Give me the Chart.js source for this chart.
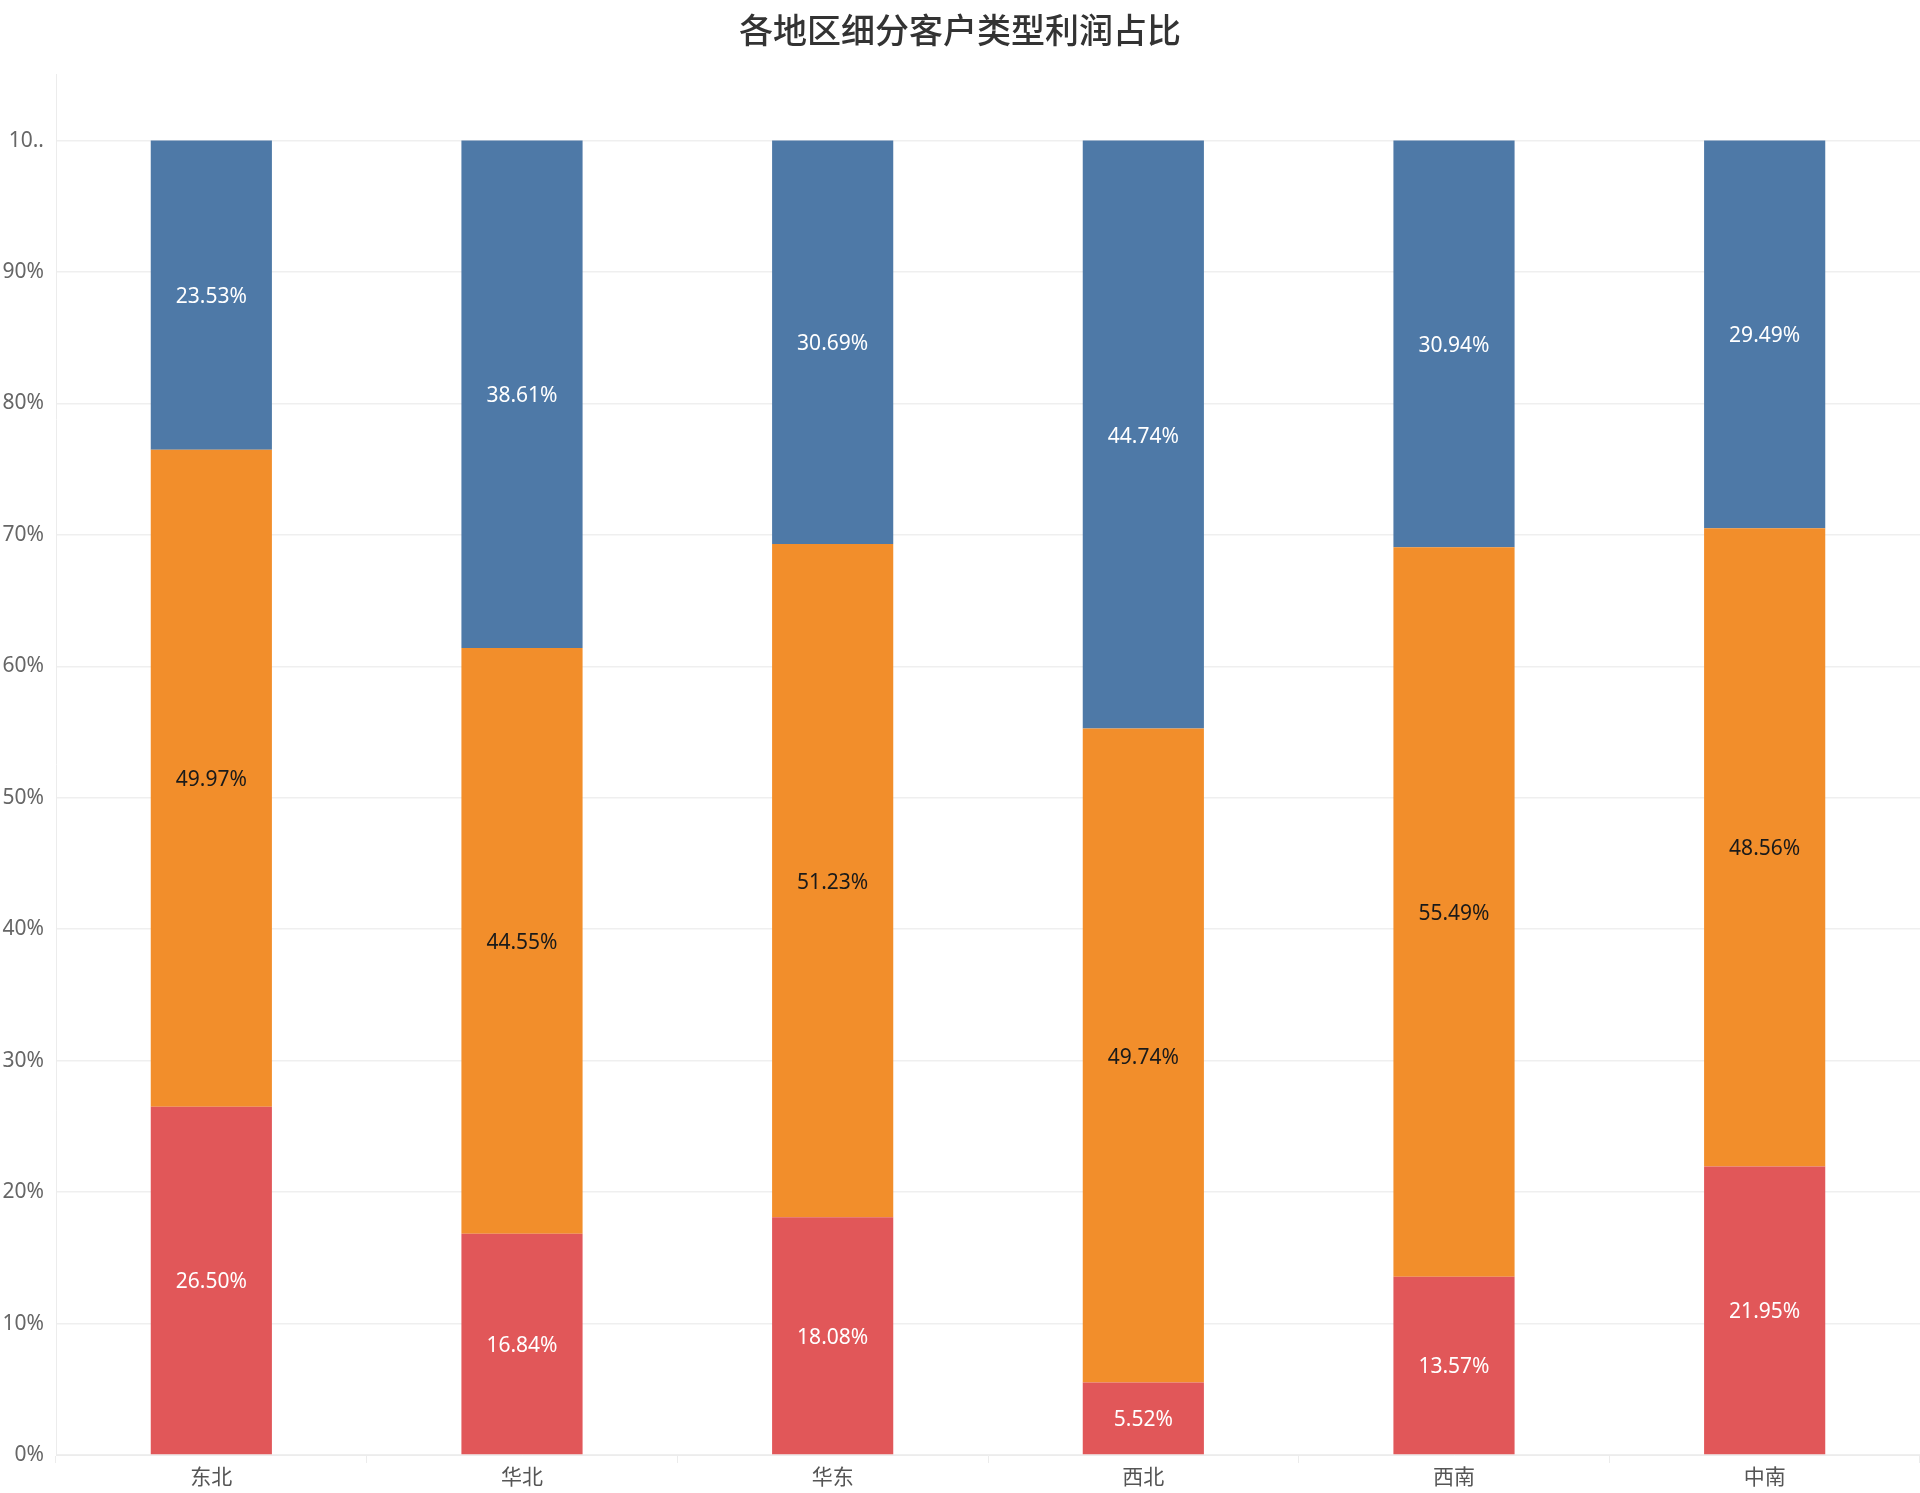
<!DOCTYPE html>
<html>
<head>
<meta charset="utf-8">
<script src="https://cdn.jsdelivr.net/npm/chart.js@4.4.1/dist/chart.umd.min.js"></script>
<style>
  html, body { margin: 0; padding: 0; background: #fff; }
  #wrap { width: 1920px; height: 1493px; }
</style>
</head>
<body>
<div id="wrap"><canvas id="profit-chart"></canvas></div>
<script>
const regions = ['东北', '华北', '华东', '西北', '西南', '中南'];
// bottom (red) -> middle (orange) -> top (blue), percent of profit
const consumerShare = [26.50, 16.84, 18.08, 5.52, 13.57, 21.95];
const corporateShare = [49.97, 44.55, 51.23, 49.74, 55.49, 48.56];
const smallBizShare = [23.53, 38.61, 30.69, 44.74, 30.94, 29.49];
const yTicks = [0, 10, 20, 30, 40, 50, 60, 70, 80, 90, 100];

const fontStack = '"Noto Sans", "Noto Sans CJK SC", sans-serif';

// draw value labels in the middle of each segment
const segmentLabels = {
    id: 'segmentLabels',
    afterDatasetsDraw(chart) {
        const ctx = chart.ctx;
        ctx.save();
        ctx.font = '21px ' + fontStack;
        ctx.textAlign = 'center';
        ctx.textBaseline = 'middle';
        chart.data.datasets.forEach((ds, i) => {
            const meta = chart.getDatasetMeta(i);
            meta.data.forEach((bar, j) => {
                const mid = (bar.y + bar.base) / 2 + 2;
                ctx.fillStyle = ds.labelColor;
                ctx.fillText(ds.data[j].toFixed(2) + '%', bar.x, mid);
            });
        });
        ctx.restore();
    }
};

new Chart(document.getElementById('profit-chart').getContext('2d'), {
    type: 'bar',
    data: {
        labels: regions,
        datasets: [
            { label: '消费者', data: consumerShare, backgroundColor: '#E15759', labelColor: '#ffffff' },
            { label: '公司', data: corporateShare, backgroundColor: '#F28E2B', labelColor: '#1a1a1a' },
            { label: '小型企业', data: smallBizShare, backgroundColor: '#4E79A7', labelColor: '#ffffff' }
        ]
    },
    options: {
        responsive: true,
        maintainAspectRatio: false,
        animation: false,
        layout: { padding: 0 },
        datasets: {
            bar: { barPercentage: 0.39, categoryPercentage: 1, borderWidth: 0 }
        },
        plugins: {
            legend: { display: false },
            tooltip: { enabled: false },
            title: {
                display: true,
                text: '各地区细分客户类型利润占比',
                color: '#333333',
                font: { family: fontStack, size: 34, weight: '500' },
                padding: { top: 13, bottom: 21 }
            }
        },
        scales: {
            x: {
                stacked: true,
                afterFit: scale => { scale.height = 38; },
                grid: {
                    offset: true,
                    drawOnChartArea: false,
                    drawTicks: true,
                    tickLength: 8,
                    color: '#ececec'
                },
                border: { color: '#ececec' },
                ticks: {
                    color: '#555555',
                    padding: 2,
                    font: { family: fontStack, size: 21 }
                }
            },
            y: {
                stacked: true,
                min: 0,
                max: 105,
                afterFit: scale => { scale.width = 56; },
                afterBuildTicks: scale => {
                    scale.ticks = yTicks.map(v => ({ value: v }));
                },
                grid: { color: '#efefef', drawTicks: false, lineWidth: 1.5 },
                border: { color: '#ececec' },
                ticks: {
                    color: '#666666',
                    padding: 12,
                    font: { family: fontStack, size: 21 },
                    callback: v => v === 100 ? '10..' : v + '%'
                }
            }
        }
    },
    plugins: [segmentLabels]
});
</script>
</body>
</html>
